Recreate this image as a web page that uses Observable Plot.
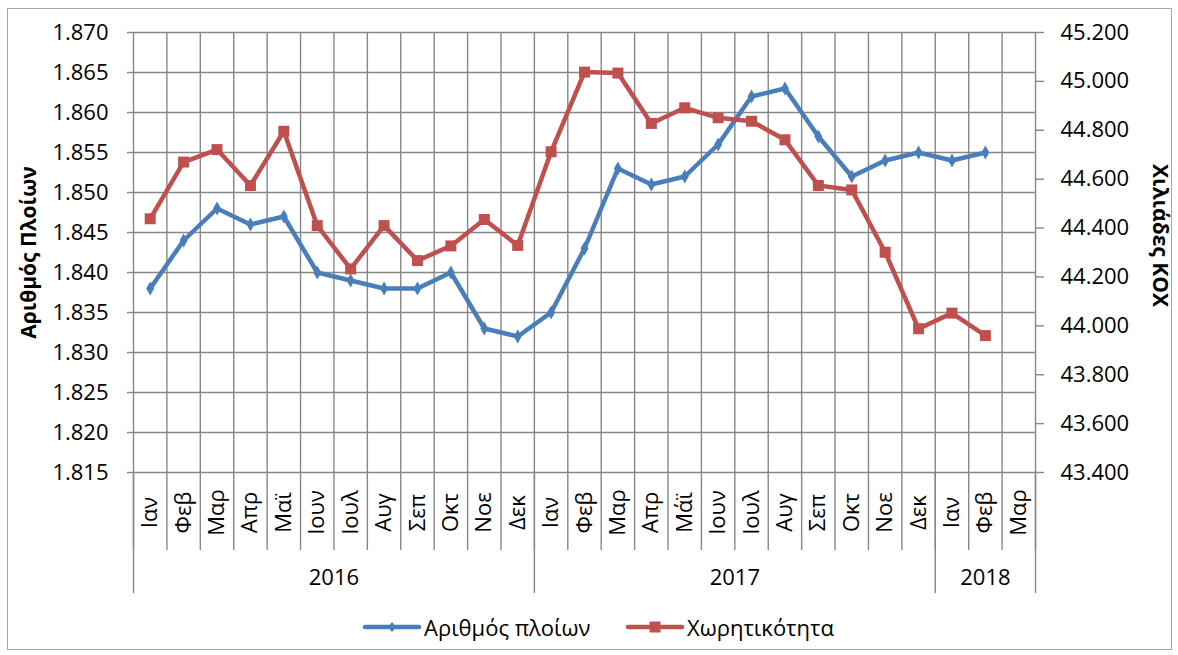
<!DOCTYPE html>
<html>
<head>
<meta charset="utf-8">
<script src="https://cdn.jsdelivr.net/npm/d3@7"></script>
<script src="https://cdn.jsdelivr.net/npm/@observablehq/plot@0.6"></script>
<style>
  body { margin: 0; background: #fff; }
  #wrap { position: relative; width: 1178px; height: 655px; font-family: "Open Sans", sans-serif; overflow: hidden; }
  #frame { position: absolute; left: 7px; top: 8px; width: 1165px; height: 642px; border: 1px solid #a6a6a6; box-sizing: border-box; }
  #chart { position: absolute; left: 0; top: 0; }
  .leg { position: absolute; top: 611px; height: 32px; display: flex; align-items: center; font-size: 22px; color: #000; white-space: nowrap; }
  .leg svg { margin-right: 2px; }
</style>
</head>
<body>
<div id="wrap">
  <div id="frame"></div>
  <div id="chart"></div>
  <div id="legend"></div>
</div>
<script>
// ---- data ----
const monthLabels = ["Ιαν","Φεβ","Μαρ","Απρ","Μαϊ","Ιουν","Ιουλ","Αυγ","Σεπ","Οκτ","Νοε","Δεκ",
                     "Ιαν","Φεβ","Μαρ","Απρ","Μάϊ","Ιουν","Ιουλ","Αυγ","Σεπ","Οκτ","Νοε","Δεκ",
                     "Ιαν","Φεβ","Μαρ"];
const years = ["2016","2017","2018"];
const monthsPerYear = [12, 12, 3];
const seriesNames = ["Αριθμός πλοίων", "Χωρητικότητα"];
const vessels = [1838,1844,1848,1846,1847,1840,1839,1838,1838,1840,1833,1832,
                 1835,1843,1853,1851,1852,1856,1862,1863,1857,1852,1854,1855,
                 1854,1855];
const tonnage = [44438,44670,44721,44574,44796,44410,44233,44410,44267,44327,44435,44329,
                 44712,45038,45034,44828,44892,44851,44837,44761,44574,44556,44301,43988,
                 44052,43960];
const leftTicks = [1815,1820,1825,1830,1835,1840,1845,1850,1855,1860,1865,1870];
const rightTicks = [43400,43600,43800,44000,44200,44400,44600,44800,45000,45200];
const leftTitle = "Αριθμός Πλοίων";
const rightTitle = "Χιλιάδες ΚΟΧ";

// ---- helpers ----
const blue = "#4a7ebb", red = "#c0504d", grid = "#878787";
const loc = d3.formatLocale({decimal: ",", thousands: ".", grouping: [3], currency: ["", "€"]});
const fmt = loc.format(",d");
const L0 = leftTicks[0], L1 = leftTicks[leftTicks.length - 1];
const R0 = rightTicks[0], R1 = rightTicks[rightTicks.length - 1];
const toLeft = v => L0 + (v - R0) * (L1 - L0) / (R1 - R0);
const toRight = v => Math.round(R0 + (v - L0) * (R1 - R0) / (L1 - L0));

const rows = vessels.map((v, i) => ({pos: i + 0.5, vessels: v, tonnage: toLeft(tonnage[i])}));
const monthCenters = monthLabels.map((m, i) => ({pos: i + 0.5, label: m}));
const monthEdges = d3.range(monthLabels.length + 1);
const yearEdges = [0, ...d3.cumsum(monthsPerYear)];
const yearCenters = years.map((y, i) => ({pos: (yearEdges[i] + yearEdges[i + 1]) / 2, label: y}));
const rightTicksMapped = rightTicks.map(toLeft);

const FS = 22;
const chart = Plot.plot({
  width: 1178,
  height: 612,
  marginTop: 32,
  marginBottom: 140,
  marginLeft: 133,
  marginRight: 143,
  style: {fontFamily: "Open Sans, sans-serif", fontSize: FS + "px", color: "#000", background: "transparent", overflow: "visible"},
  x: {domain: [0, monthLabels.length]},
  y: {domain: [L0, L1]},
  marks: [
    // horizontal gridlines
    Plot.ruleY(leftTicks, {stroke: grid, strokeWidth: 1.4}),
    // vertical gridlines
    Plot.ruleX(monthEdges, {stroke: grid, strokeWidth: 1.4}),
    // left axis
    Plot.axisY(leftTicks, {anchor: "left", tickSize: 6, tickPadding: 19, tickFormat: fmt, stroke: grid, strokeWidth: 1.4, label: null, fontSize: FS}),
    // right axis
    Plot.axisY(rightTicksMapped, {anchor: "right", tickSize: 8, tickPadding: 17, tickFormat: d => fmt(toRight(d)), stroke: grid, strokeWidth: 1.4, label: null, fontSize: FS}),
    // month separators & year separators below
    Plot.axisX(monthEdges, {anchor: "bottom", tickSize: 78, tickFormat: () => "", stroke: grid, strokeWidth: 1.4, label: null}),
    Plot.axisX(yearEdges, {anchor: "bottom", tickSize: 121, tickFormat: () => "", stroke: grid, strokeWidth: 1.4, label: null}),
    // month labels
    Plot.text(monthCenters, {x: "pos", text: "label", frameAnchor: "bottom", rotate: -90, dy: 40, textAnchor: "middle", lineAnchor: "middle", fontSize: FS}),
    // year labels
    Plot.text(yearCenters, {x: "pos", text: "label", frameAnchor: "bottom", dy: 105, textAnchor: "middle", lineAnchor: "middle", fontSize: FS}),
    // axis titles
    Plot.text([leftTitle], {frameAnchor: "left", rotate: -90, dx: -104, fontWeight: "bold", fontSize: 21, textAnchor: "middle"}),
    Plot.text([rightTitle], {frameAnchor: "right", rotate: 90, dx: 124, dy: -17, fontWeight: "bold", fontSize: 21, textAnchor: "middle"}),
    // series
    Plot.line(rows, {x: "pos", y: "vessels", stroke: blue, strokeWidth: 4.5, strokeLinejoin: "round", strokeLinecap: "round"}),
    Plot.dot(rows, {x: "pos", y: "vessels", symbol: "diamond", r: 4.2, fill: blue, stroke: null}),
    Plot.line(rows, {x: "pos", y: "tonnage", stroke: red, strokeWidth: 4.5, strokeLinejoin: "round", strokeLinecap: "round"}),
    Plot.dot(rows, {x: "pos", y: "tonnage", symbol: "square", r: 6.2, fill: red, stroke: null})
  ]
});
document.getElementById("chart").appendChild(chart);

// legend
const legend = document.getElementById("legend");
const items = [
  {name: seriesNames[0], color: blue, sym: "diamond", left: 362},
  {name: seriesNames[1], color: red, sym: "square", left: 625}
];
for (const it of items) {
  const div = document.createElement("div");
  div.className = "leg";
  div.style.left = it.left + "px";
  const marker = it.sym === "diamond"
    ? `<path d="M30,11 L34,16 L30,21 L26,16 Z" fill="${it.color}"/>`
    : `<rect x="24.5" y="10.5" width="11" height="11" fill="${it.color}"/>`;
  div.innerHTML = `<svg width="60" height="32"><line x1="3" y1="16" x2="57" y2="16" stroke="${it.color}" stroke-width="4.5" stroke-linecap="round"/>${marker}</svg><span>${it.name}</span>`;
  legend.appendChild(div);
}
</script>
</body>
</html>
